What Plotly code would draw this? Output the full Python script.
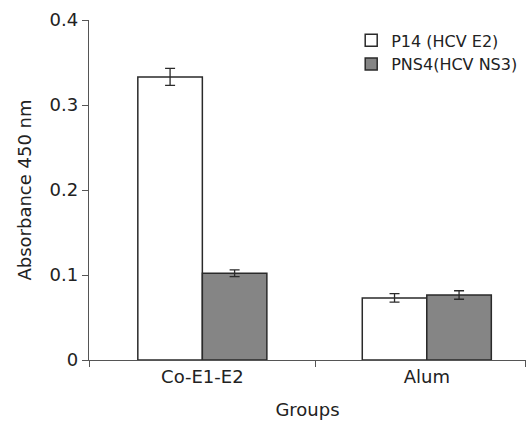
import plotly.graph_objects as go

groups = ["Co-E1-E2", "Alum"]
p14_values = [0.333, 0.073]
p14_errors = [0.010, 0.005]
pns4_values = [0.102, 0.0765]
pns4_errors = [0.004, 0.005]
series_names = ["P14 (HCV E2)", "PNS4(HCV NS3)"]
y_ticks = [0, 0.1, 0.2, 0.3, 0.4]
y_tick_labels = ["0", "0.1", "0.2", "0.3", "0.4"]

FONT = "DejaVu Sans, sans-serif"
BAR_LINE = "#2a2a2a"
AXIS_LINE = "#555555"

group_pos = list(range(len(groups)))
BAR_W = 0.2875

fig = go.Figure()
fig.add_trace(go.Bar(
    x=group_pos, y=p14_values, name=series_names[0],
    width=BAR_W, offset=-BAR_W,
    marker=dict(color="white", line=dict(color=BAR_LINE, width=1.5)),
    error_y=dict(type="data", array=p14_errors, color=BAR_LINE, thickness=1.3, width=5),
))
fig.add_trace(go.Bar(
    x=group_pos, y=pns4_values, name=series_names[1],
    width=BAR_W, offset=0,
    marker=dict(color="#858585", line=dict(color=BAR_LINE, width=1.5)),
    error_y=dict(type="data", array=pns4_errors, color=BAR_LINE, thickness=1.3, width=5),
))

fig.update_layout(
    width=528, height=429,
    margin=dict(l=89, r=2, t=20, b=69),
    paper_bgcolor="white", plot_bgcolor="white",
    barmode="overlay",
    font=dict(family=FONT, size=17, color="#222222"),
    showlegend=True,
    legend=dict(x=0.6, y=0.99, xanchor="left", yanchor="top",
                font=dict(size=16, color="#222222"), itemwidth=30,
                tracegroupgap=0, bgcolor="rgba(0,0,0,0)"),
    xaxis=dict(
        range=[-0.505, 1.442],
        tickvals=group_pos, ticktext=groups, ticks="",
        minor=dict(tickmode="array", tickvals=[-0.505, 0.504, 1.44],
                   ticks="outside", ticklen=6, tickcolor=AXIS_LINE, showgrid=False),
        showline=True, linecolor=AXIS_LINE, linewidth=1.3,
        title=dict(text="Groups", font=dict(size=18), standoff=17),
        tickfont=dict(size=18), showgrid=False, zeroline=False, automargin=False,
    ),
    yaxis=dict(
        range=[0, 0.4], tickvals=y_ticks, ticktext=y_tick_labels,
        showline=True, linecolor=AXIS_LINE, linewidth=1.3,
        ticks="outside", ticklen=6, tickcolor=AXIS_LINE,
        title=dict(text="Absorbance 450 nm", font=dict(size=18), standoff=13),
        tickfont=dict(size=18), showgrid=False, zeroline=False, automargin=False,
    ),
)

fig.write_html(
    "out.html",
    config={"displayModeBar": False},
    post_script="document.body.style.margin='0';document.body.style.overflow='hidden';",
)
